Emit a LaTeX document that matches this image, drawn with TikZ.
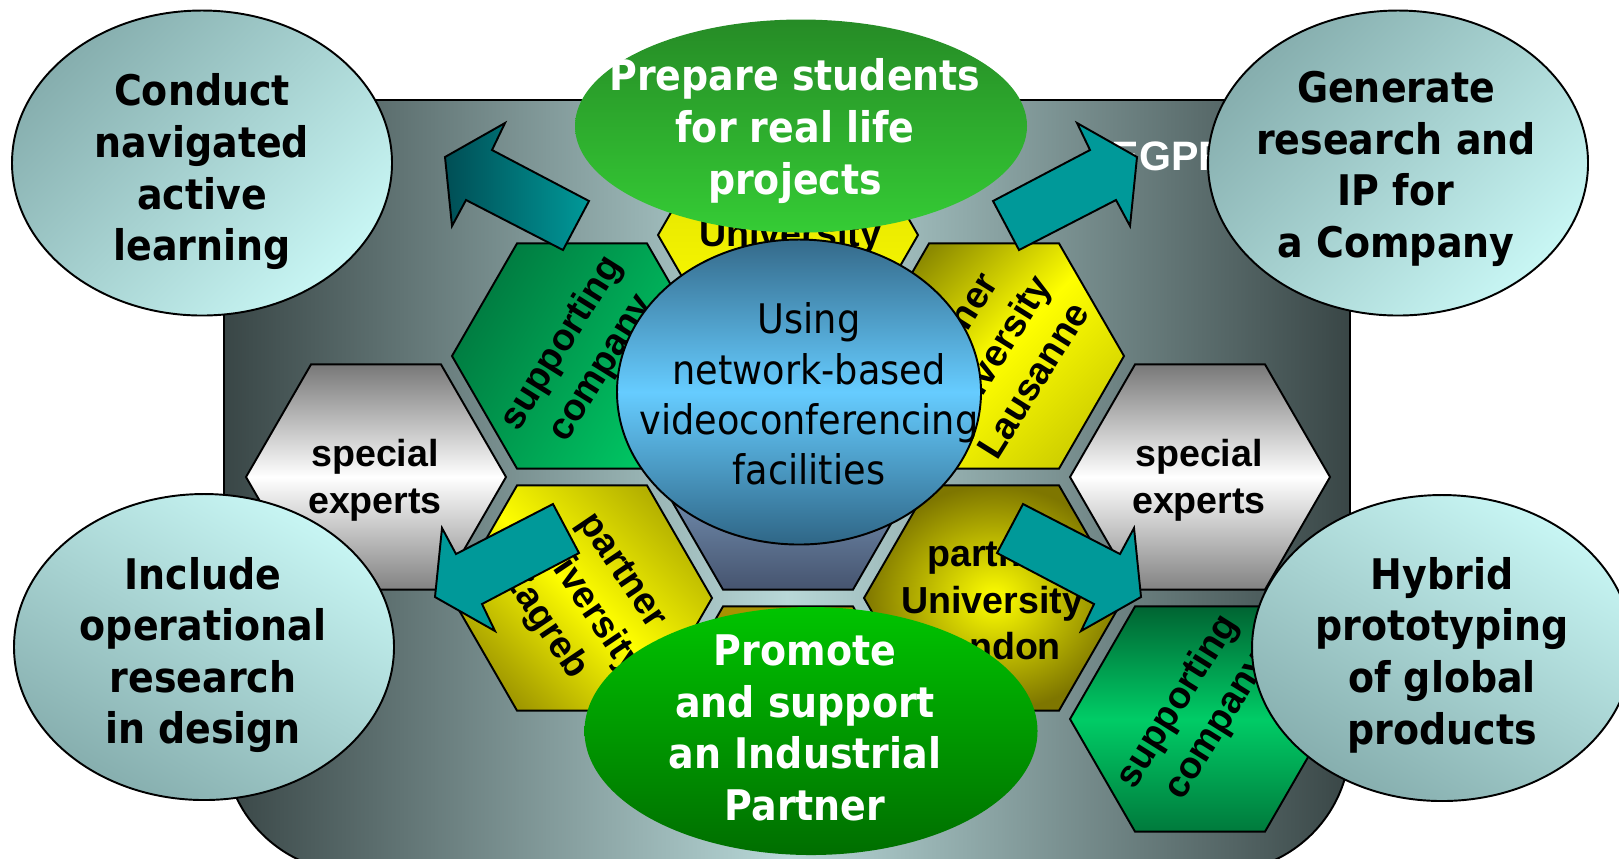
\documentclass[tikz,border=0pt]{standalone}
\usepackage{fontspec}
\setmainfont{Liberation Sans}
\newfontfamily\tahfont[FakeStretch=0.9]{DejaVu Sans}
\usetikzlibrary{shapes.geometric}

\definecolor{panelDark}{HTML}{394646}
\definecolor{panelLight}{HTML}{B8D8D8}
\definecolor{goalDark}{HTML}{86AEAE}
\definecolor{goalLight}{HTML}{C8F6F4}
\definecolor{arrowTeal}{HTML}{009999}
\definecolor{arrowDeep}{HTML}{004E55}
\definecolor{olive}{HTML}{8C8A00}
\definecolor{oliveSoft}{HTML}{D0D000}
\definecolor{oliveTop}{HTML}{B4B000}
\definecolor{oliveLow}{HTML}{A09800}
\definecolor{oliveRim}{HTML}{7E7600}
\definecolor{yellowSoft}{HTML}{DCDC00}
\definecolor{brownTop}{HTML}{A89400}
\definecolor{brownLow}{HTML}{6E6000}
\definecolor{skyTop}{HTML}{A8D6FF}
\definecolor{skyLow}{HTML}{46546F}
\definecolor{leafDark}{HTML}{007A40}
\definecolor{leafLight}{HTML}{00CC66}
\definecolor{leafTop}{HTML}{006432}
\definecolor{leafLow}{HTML}{007A3C}
\definecolor{steelTop}{HTML}{787878}
\definecolor{steelLow}{HTML}{828282}
\definecolor{hubEdge}{HTML}{356A8A}
\definecolor{hubLow}{HTML}{2F6686}
\definecolor{hubMid}{HTML}{66CCFF}
\definecolor{aimTop}{HTML}{268B26}
\definecolor{aimLow}{HTML}{35CC35}
\definecolor{promoTop}{HTML}{00C400}
\definecolor{promoLow}{HTML}{006E00}

\tikzset{
  outline/.style={draw=black, line width=0.55pt},
  hexa/.style={outline, regular polygon, regular polygon sides=6,
    minimum size=26mm, inner sep=0pt},
  goal/.style={outline, ellipse, inner sep=0pt},
  goaltext/.style={align=center, text=black,
    font=\tahfont\bfseries\fontsize{12}{14.7}\selectfont},
  hexlabel/.style={align=center, text=black,
    font=\bfseries\fontsize{10.7}{13.3}\selectfont},
  blockarrow/.style={outline, fill=arrowTeal},
}

\begin{document}
\begin{tikzpicture}[x=0.1mm,y=-0.1mm]
  \useasboundingbox (0,0) rectangle (1619,858);
  \clip (0,0) rectangle (1619,858);

  % panel behind the honeycomb
  \draw[outline, left color=panelDark, right color=panelDark,
    middle color=panelLight, rounded corners=13mm] (224,100) rectangle (1350,872);
  \node[anchor=base west, inner sep=0pt, text=white,
    font=\bfseries\fontsize{11.7}{13}\selectfont] (egpr) at (1111,170) {EGPR};

  % honeycomb
  \node[hexa, top color=yellowSoft, bottom color=yellow] (hexN) at (788,235) {};
  \node[hexa, top color=brownTop, bottom color=brownLow] (hexS) at (788,719) {};
  \node[hexa, top color=skyTop, bottom color=skyLow] (hexC) at (788,477) {};
  \node[hexa, top color=leafDark, bottom color=leafLight, shading angle=60] (hexNW) at (582,356) {};
  \node[hexa, top color=olive, bottom color=oliveSoft, middle color=yellow,
    shading angle=45] (hexNE) at (994,356) {};
  \node[hexa, top color=oliveTop, bottom color=oliveLow, middle color=yellow,
    shading angle=-45] (hexSW) at (582,598) {};
  \node[hexa, inner color=yellow, outer color=oliveRim] (hexSE) at (994,598) {};
  \node[hexa, top color=steelTop, bottom color=steelLow, middle color=white] (hexW) at (376,477) {};
  \node[hexa, top color=steelTop, bottom color=steelLow, middle color=white] (hexE) at (1200,477) {};
  \node[hexa, top color=leafTop, bottom color=leafLow, middle color=leafLight] (hexFar) at (1200,719) {};

  \node[hexlabel] (lblN) at (790,237) {University};
  \node[hexlabel, rotate=58] (lblNW) at (hexNW) {supporting\\company};
  \node[hexlabel, rotate=58] (lblNE) at (hexNE) {partner\\University\\Lausanne};
  \node[hexlabel, rotate=-56] (lblSW) at (hexSW) {partner\\University\\Zagreb};
  \node[hexlabel] (lblSE) at (992,601) {partner\\University\\London};
  \node[hexlabel] (lblW) at (375,480) {special\\experts};
  \node[hexlabel] (lblE) at (1199,480) {special\\experts};
  \node[hexlabel, rotate=58] (lblFar) at (1198,714) {supporting\\company};

  % hub
  \node[goal, top color=hubEdge, bottom color=hubLow, middle color=hubMid,
    minimum width=36.4mm, minimum height=30.5mm] (hub) at (799,392) {};
  \node[align=center, text=black, font=\tahfont\fontsize{11.6}{14.3}\selectfont]
    (hubtext) at (809,394) {Using\\network-based\\videoconferencing\\facilities};

  % block arrows
  \draw[blockarrow, left color=arrowDeep, right color=arrowTeal]
    (445,157) -- (505,123) -- (492,150) -- (589,201) -- (563,250) -- (466,200) -- (452,226) -- cycle;
  \draw[blockarrow]
    (1137,157) -- (1077,123) -- (1090,150) -- (993,201) -- (1019,250) -- (1116,200) -- (1130,226) -- cycle;
  \draw[blockarrow]
    (435,597) -- (495,631) -- (482,604) -- (579,553) -- (553,504) -- (456,554) -- (442,528) -- cycle;
  \draw[blockarrow]
    (1141,597) -- (1081,631) -- (1094,604) -- (997,553) -- (1023,504) -- (1120,554) -- (1134,528) -- cycle;

  % green aims
  \node[goal, draw=none, top color=aimTop, bottom color=aimLow,
    minimum width=45.2mm, minimum height=21.3mm] (aimN) at (801,126) {};
  \node[goaltext, text=white] (txtN) at (795,131) {Prepare students\\for real life\\projects};
  \node[goal, draw=none, top color=promoTop, bottom color=promoLow,
    minimum width=45.3mm, minimum height=24.8mm] (aimS) at (811,731) {};
  \node[goaltext, text=white] (txtS) at (805,728) {Promote\\and support\\an Industrial\\Partner};

  % outer goals
  \node[goal, top color=goalDark, bottom color=goalLight, shading angle=45,
    minimum width=38mm, minimum height=30.5mm] (goalNW) at (202,163) {};
  \node[goaltext] (txtNW) at (202,172) {Conduct\\navigated\\active\\learning};
  \node[goal, top color=goalDark, bottom color=goalLight, shading angle=45,
    minimum width=38mm, minimum height=30.5mm] (goalNE) at (1398,163) {};
  \node[goaltext] (txtNE) at (1396,169) {Generate\\research and\\IP for\\a Company};
  \node[goal, top color=goalLight, bottom color=goalDark, shading angle=-30,
    minimum width=38mm, minimum height=30.6mm] (goalSW) at (204,647) {};
  \node[goaltext] (txtSW) at (203,655) {Include\\operational\\research\\in design};
  \node[goal, top color=goalLight, bottom color=goalDark, shading angle=-30,
    minimum width=38mm, minimum height=30.6mm] (goalSE) at (1442,648) {};
  \node[goaltext] (txtSE) at (1442,655) {Hybrid\\prototyping\\of global\\products};
\end{tikzpicture}
\end{document}
